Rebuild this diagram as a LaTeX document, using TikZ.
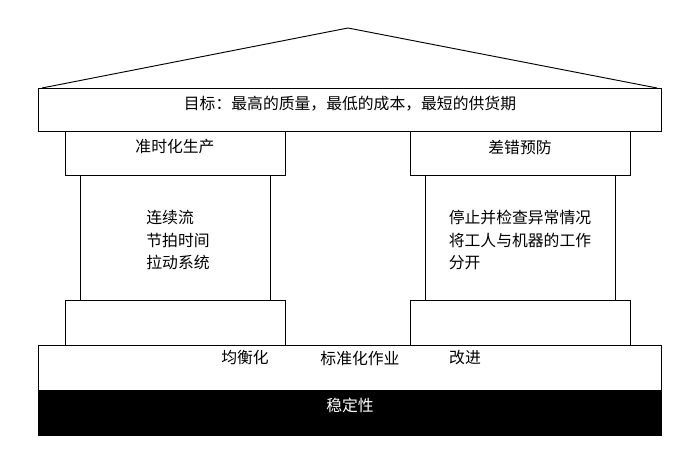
\documentclass[tikz,border=0pt]{standalone}
\usepackage{fontspec}
\newfontfamily\cjk{Noto Sans CJK SC}
\usetikzlibrary{positioning}

\begin{document}
\begin{tikzpicture}[x=0.03cm,y=-0.03cm,
  block/.style={draw=black,thick,fill=white},
  label/.style={font=\cjk\fontsize{13.5}{19}\selectfont,align=center}]
\useasboundingbox (0,0) rectangle (687,456);

% roof
\draw[thick] (42,88) -- (348,28) -- (657,88);
\draw[block] (38,88) rectangle (661,131);
\node[label] (goal) at (350,104) {目标：最高的质量，最低的成本，最短的供货期};

% left pillar
\draw[block] (65,131) rectangle (285,175);
\node[label] (jit) at (175,147) {准时化生产};
\draw[block] (80,175) rectangle (270,300);
\node[label,align=left] (flow) at (178,240) {连续流\\节拍时间\\拉动系统};
\draw[block] (65,300) rectangle (285,345);

% right pillar
\draw[block] (410,131) rectangle (630,175);
\node[label] (poka) at (520,147) {差错预防};
\draw[block] (425,175) rectangle (615,300);
\node[label,align=left] (jido) at (520,240) {停止并检查异常情况\\将工人与机器的工作\\分开};
\draw[block] (410,300) rectangle (630,345);

% foundation
\draw[block] (38,345) rectangle (661,390);
\node[label] (heij) at (245,358) {均衡化};
\node[label] (std) at (360,358) {标准化作业};
\node[label] (kaizen) at (465,358) {改进};
\draw[thick,fill=black] (38,390) rectangle (661,435);
\node[label,text=white] (stab) at (350,405) {稳定性};
\end{tikzpicture}
\end{document}
